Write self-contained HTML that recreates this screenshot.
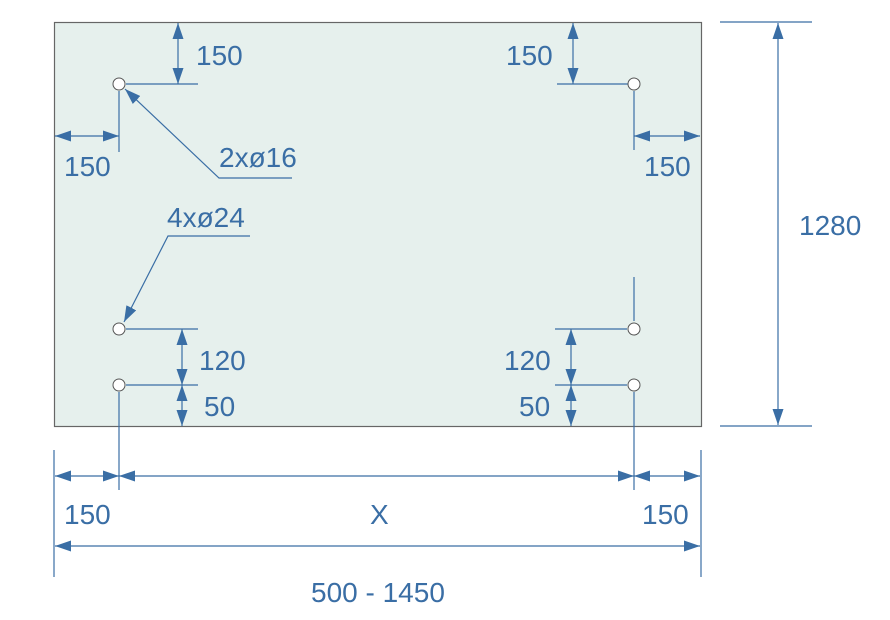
<!DOCTYPE html>
<html><head><meta charset="utf-8"><style>
html,body{margin:0;padding:0;background:#fff;}
svg{display:block;}
text{font-family:"Liberation Sans",sans-serif;font-size:28px;fill:#3a6ea5;}
</style></head><body>
<svg width="890" height="620" viewBox="0 0 890 620" xmlns="http://www.w3.org/2000/svg">
<defs>
<marker id="a" viewBox="0 0 16 11" refX="16" refY="5.5" markerWidth="16" markerHeight="11" markerUnits="userSpaceOnUse" orient="auto-start-reverse">
<path d="M0,0 L16,5.5 L0,11 z" fill="#3a6ea5"/></marker>
</defs>
<rect x="54.5" y="22.5" width="647" height="404" fill="#e6f0ed" stroke="#666" stroke-width="1.2"/>
<g stroke="#3a6ea5" stroke-width="1.2" fill="none">
<line x1="178" y1="23" x2="178" y2="84" marker-start="url(#a)" marker-end="url(#a)"/>
<line x1="126" y1="84" x2="198" y2="84"/>
<line x1="55" y1="136" x2="119" y2="136" marker-start="url(#a)" marker-end="url(#a)"/>
<line x1="119" y1="91" x2="119" y2="152"/>
<polyline points="292,178 219,178 125,89" marker-end="url(#a)"/>
<line x1="573" y1="23" x2="573" y2="84" marker-start="url(#a)" marker-end="url(#a)"/>
<line x1="557" y1="84" x2="628" y2="84"/>
<line x1="634" y1="136" x2="700" y2="136" marker-start="url(#a)" marker-end="url(#a)"/>
<line x1="634" y1="91" x2="634" y2="150"/>
<line x1="720" y1="22" x2="812" y2="22"/>
<line x1="720" y1="426" x2="812" y2="426"/>
<line x1="778" y1="23" x2="778" y2="425" marker-start="url(#a)" marker-end="url(#a)"/>
<polyline points="250,236 168,236 124,322" marker-end="url(#a)"/>
<line x1="126" y1="329" x2="198" y2="329"/>
<line x1="126" y1="385" x2="198" y2="385"/>
<line x1="182" y1="329" x2="182" y2="385" marker-start="url(#a)" marker-end="url(#a)"/>
<line x1="182" y1="385" x2="182" y2="426" marker-start="url(#a)" marker-end="url(#a)"/>
<line x1="555" y1="329" x2="627" y2="329"/>
<line x1="555" y1="385" x2="627" y2="385"/>
<line x1="571" y1="329" x2="571" y2="385" marker-start="url(#a)" marker-end="url(#a)"/>
<line x1="571" y1="385" x2="571" y2="426" marker-start="url(#a)" marker-end="url(#a)"/>
<line x1="634" y1="277" x2="634" y2="321"/>
<line x1="119" y1="392" x2="119" y2="490"/>
<line x1="634" y1="392" x2="634" y2="490"/>
<line x1="54" y1="450" x2="54" y2="577"/>
<line x1="701" y1="450" x2="701" y2="577"/>
<line x1="55" y1="476" x2="119" y2="476" marker-start="url(#a)" marker-end="url(#a)"/>
<line x1="119" y1="476" x2="634" y2="476" marker-start="url(#a)" marker-end="url(#a)"/>
<line x1="634" y1="476" x2="700" y2="476" marker-start="url(#a)" marker-end="url(#a)"/>
<line x1="55" y1="546" x2="700" y2="546" marker-start="url(#a)" marker-end="url(#a)"/>
</g>
<g fill="#fff" stroke="#555" stroke-width="1">
<circle cx="119" cy="84" r="6"/><circle cx="634" cy="84" r="6"/>
<circle cx="119" cy="329" r="6"/><circle cx="634" cy="329" r="6"/>
<circle cx="119" cy="385" r="6"/><circle cx="634" cy="385" r="6"/>
</g>
<text x="196" y="65">150</text>
<text x="64" y="176">150</text>
<text x="219" y="167">2xø16</text>
<text x="506" y="65">150</text>
<text x="644" y="176">150</text>
<text x="799" y="235">1280</text>
<text x="167" y="227">4xø24</text>
<text x="199" y="370">120</text>
<text x="204" y="416">50</text>
<text x="504" y="370">120</text>
<text x="519" y="416">50</text>
<text x="64" y="524">150</text>
<text x="370" y="524">X</text>
<text x="642" y="524">150</text>
<text x="311" y="602">500 - 1450</text>
</svg>
</body></html>
